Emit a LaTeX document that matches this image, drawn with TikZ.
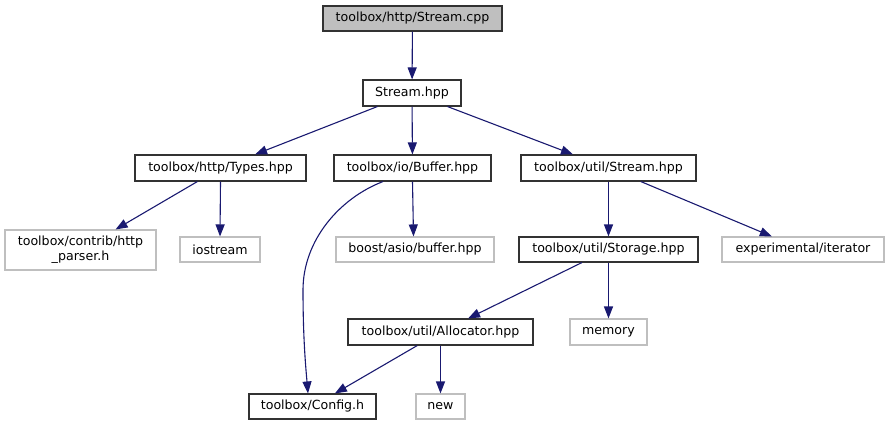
\documentclass[tikz,border=0pt]{standalone}
\usepackage{fontspec}
\setmainfont{DejaVu Sans}
\usetikzlibrary{arrows.meta}
\definecolor{edgeblue}{RGB}{25,25,112}
\definecolor{grayline}{RGB}{191,191,191}
\definecolor{darkline}{RGB}{50,50,50}
\begin{document}
\begin{tikzpicture}[x=1pt,y=-1pt,
  base/.style={rectangle,inner sep=0pt,font=\fontsize{12.6}{15}\selectfont,align=center,line width=1.1pt},
  known/.style={base,draw=darkline},
  ext/.style={base,draw=grayline},
  root/.style={base,draw=darkline,fill=grayline},
  edge/.style={draw=edgeblue,line width=1.1pt,-{Triangle[length=12pt,width=9pt]}}]
\useasboundingbox (0,0) rectangle (889,425);
\node[root,minimum width=179pt,minimum height=25pt] (cpp) at (412.5,18.5) {toolbox/http/Stream.cpp};
\node[known,minimum width=98pt,minimum height=26pt] (shpp) at (412,93) {Stream.hpp};
\node[known,minimum width=171pt,minimum height=26pt] (types) at (220.5,168) {toolbox/http/Types.hpp};
\node[known,minimum width=157pt,minimum height=26pt] (buffer) at (412.5,168) {toolbox/io/Buffer.hpp};
\node[known,minimum width=175pt,minimum height=26pt] (ustream) at (608.5,168) {toolbox/util/Stream.hpp};
\node[ext,minimum width=151pt,minimum height=40pt] (parser) at (80.5,250) {toolbox/contrib/http\\\_parser.h};
\node[ext,minimum width=80pt,minimum height=25pt] (iostream) at (220,249.5) {iostream};
\node[ext,minimum width=158pt,minimum height=25pt] (boost) at (415,249.5) {boost/asio/buffer.hpp};
\node[known,minimum width=179pt,minimum height=25pt] (storage) at (608.5,249.5) {toolbox/util/Storage.hpp};
\node[ext,minimum width=162pt,minimum height=25pt] (exper) at (803,249.5) {experimental/iterator};
\node[known,minimum width=185pt,minimum height=26pt] (alloc) at (440.5,332) {toolbox/util/Allocator.hpp};
\node[ext,minimum width=77pt,minimum height=26pt] (memory) at (608.5,332) {memory};
\node[known,minimum width=127pt,minimum height=25pt] (config) at (312.5,406.5) {toolbox/Config.h};
\node[ext,minimum width=49pt,minimum height=25pt] (new) at (440.5,406.5) {new};

\draw[edge] (cpp) -- (shpp);
\draw[edge] (shpp) -- (types);
\draw[edge] (shpp) -- (buffer);
\draw[edge] (shpp) -- (ustream);
\draw[edge] (types) -- (parser);
\draw[edge] (types.south) -- (iostream.north);
\draw[edge] (buffer.south) -- ([xshift=-1.5pt]boost.north);
\draw[edge] ([xshift=-29.5pt]buffer.south) .. controls (340,198) and (303,240) .. (303,290) .. controls (303,340) and (306,370) .. ([xshift=-4.5pt]config.north);
\draw[edge] (ustream) -- (storage);
\draw[edge] (ustream) -- (exper);
\draw[edge] (storage) -- (alloc);
\draw[edge] (storage) -- (memory);
\draw[edge] (alloc) -- (config);
\draw[edge] (alloc) -- (new);
\end{tikzpicture}
\end{document}
